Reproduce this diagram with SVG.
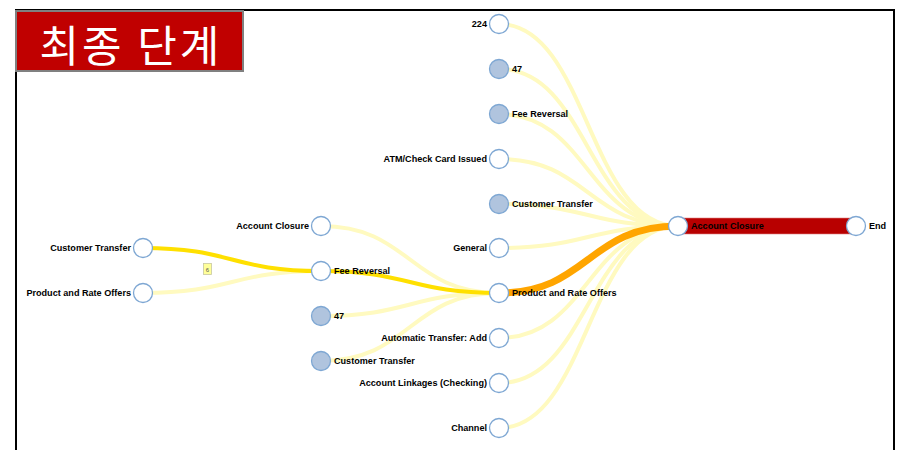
<svg xmlns="http://www.w3.org/2000/svg" width="903" height="450" viewBox="0 0 903 450">
<style>
  .frame { fill: #ffffff; stroke: #000000; stroke-width: 2; }
  .title-box { fill: #c00000; stroke: #808080; stroke-width: 2; }
  .title { font-family: "Noto Sans CJK KR", "Liberation Sans", sans-serif; font-size: 43px; letter-spacing: 3px; fill: #ffffff; }
  .n { fill: #ffffff; stroke: #7ea7d3; stroke-width: 1.3; }
  .n.sel { fill: #b0c4de; }
  .lbl { font-family: "Liberation Sans", Arial, sans-serif; font-size: 9.1px; font-weight: bold; fill: #000000; }
  .end { text-anchor: end; }
  .lk { fill: none; stroke-linecap: butt; }
  .pale { stroke: #fffac0; stroke-width: 4; }
  .gold { stroke: #ffe000; stroke-width: 4; }
  .hot { stroke: #ffa500; stroke-width: 7; }
</style>

<rect class="frame" x="16" y="10" width="878" height="460"/>

<g id="title">
  <rect class="title-box" x="16" y="11" width="227" height="60"/>
  <text class="title" x="131" y="62" text-anchor="middle">최종 단계</text>
</g>

<g id="connectors">
  <!-- inflows to Account Closure -->
  <path class="lk pale" d="M499,24 C588,24 588,226 678,226"/>
  <path class="lk pale" d="M499,69 C588,69 588,226 678,226"/>
  <path class="lk pale" d="M499,114 C588,114 588,226 678,226"/>
  <path class="lk pale" d="M499,159 C588,159 588,226 678,226"/>
  <path class="lk pale" d="M499,204 C588,204 588,226 678,226"/>
  <path class="lk pale" d="M499,248 C588,248 588,226 678,226"/>
  <path class="lk pale" d="M499,338 C588,338 588,226 678,226"/>
  <path class="lk pale" d="M499,383 C588,383 588,226 678,226"/>
  <path class="lk pale" d="M499,428 C588,428 588,226 678,226"/>
  <!-- inflows to Product and Rate Offers -->
  <path class="lk pale" d="M321,226 C410,226 410,293 499,293"/>
  <path class="lk pale" d="M321,316 C410,316 410,293 499,293"/>
  <path class="lk pale" d="M321,361 C410,361 410,293 499,293"/>
  <path class="lk pale" d="M143,293 C232,293 232,271 321,271"/>
  <!-- main path -->
  <path class="lk gold" d="M143,248 C232,248 232,271 321,271"/>
  <path class="lk gold" d="M321,271 C410,271 410,293 499,293"/>
  <path class="lk hot" d="M499,293 C588,293 588,226 678,226"/>
  <rect x="678" y="218" width="178" height="16" fill="#b80000" stroke="#e08080" stroke-width="0.6"/>
  <g id="count-tag">
    <rect x="203.5" y="263.5" width="8" height="11" fill="#ffff99" stroke="#c8c8a0" stroke-width="0.8"/>
    <text x="207.5" y="271.5" text-anchor="middle" font-family="Liberation Sans, sans-serif" font-size="6" fill="#555555">6</text>
  </g>
</g>

<g id="n-224"><circle class="n" cx="499" cy="24" r="9.5"/><text class="lbl end" x="487" y="27">224</text></g>
<g id="n-47a"><circle class="n sel" cx="499" cy="69" r="9.5"/><text class="lbl" x="512" y="72">47</text></g>
<g id="n-fee-a"><circle class="n sel" cx="499" cy="114" r="9.5"/><text class="lbl" x="512" y="117">Fee Reversal</text></g>
<g id="n-atm"><circle class="n" cx="499" cy="159" r="9.5"/><text class="lbl end" x="487" y="162">ATM/Check Card Issued</text></g>
<g id="n-ct-a"><circle class="n sel" cx="499" cy="204" r="9.5"/><text class="lbl" x="512" y="207">Customer Transfer</text></g>
<g id="n-general"><circle class="n" cx="499" cy="248" r="9.5"/><text class="lbl end" x="487" y="251">General</text></g>
<g id="n-pro-a"><circle class="n" cx="499" cy="293" r="9.5"/><text class="lbl" x="512" y="296">Product and Rate Offers</text></g>
<g id="n-auto"><circle class="n" cx="499" cy="338" r="9.5"/><text class="lbl end" x="487" y="341">Automatic Transfer: Add</text></g>
<g id="n-link"><circle class="n" cx="499" cy="383" r="9.5"/><text class="lbl end" x="487" y="386">Account Linkages (Checking)</text></g>
<g id="n-channel"><circle class="n" cx="499" cy="428" r="9.5"/><text class="lbl end" x="487" y="431">Channel</text></g>

<g id="n-close-b"><circle class="n" cx="321" cy="226" r="9.5"/><text class="lbl end" x="309" y="229">Account Closure</text></g>
<g id="n-fee-b"><circle class="n" cx="321" cy="271" r="9.5"/><text class="lbl" x="334" y="274">Fee Reversal</text></g>
<g id="n-47b"><circle class="n sel" cx="321" cy="316" r="9.5"/><text class="lbl" x="334" y="319">47</text></g>
<g id="n-ct-b"><circle class="n sel" cx="321" cy="361" r="9.5"/><text class="lbl" x="334" y="364">Customer Transfer</text></g>

<g id="n-ct-c"><circle class="n" cx="143" cy="248" r="9.5"/><text class="lbl end" x="131" y="251">Customer Transfer</text></g>
<g id="n-pro-c"><circle class="n" cx="143" cy="293" r="9.5"/><text class="lbl end" x="131" y="296">Product and Rate Offers</text></g>

<g id="n-close"><circle class="n" cx="678" cy="226" r="9.5"/><text class="lbl" x="691" y="229">Account Closure</text></g>
<g id="n-end"><circle class="n" cx="856" cy="226" r="9.5"/><text class="lbl" x="869" y="229">End</text></g>
</svg>
